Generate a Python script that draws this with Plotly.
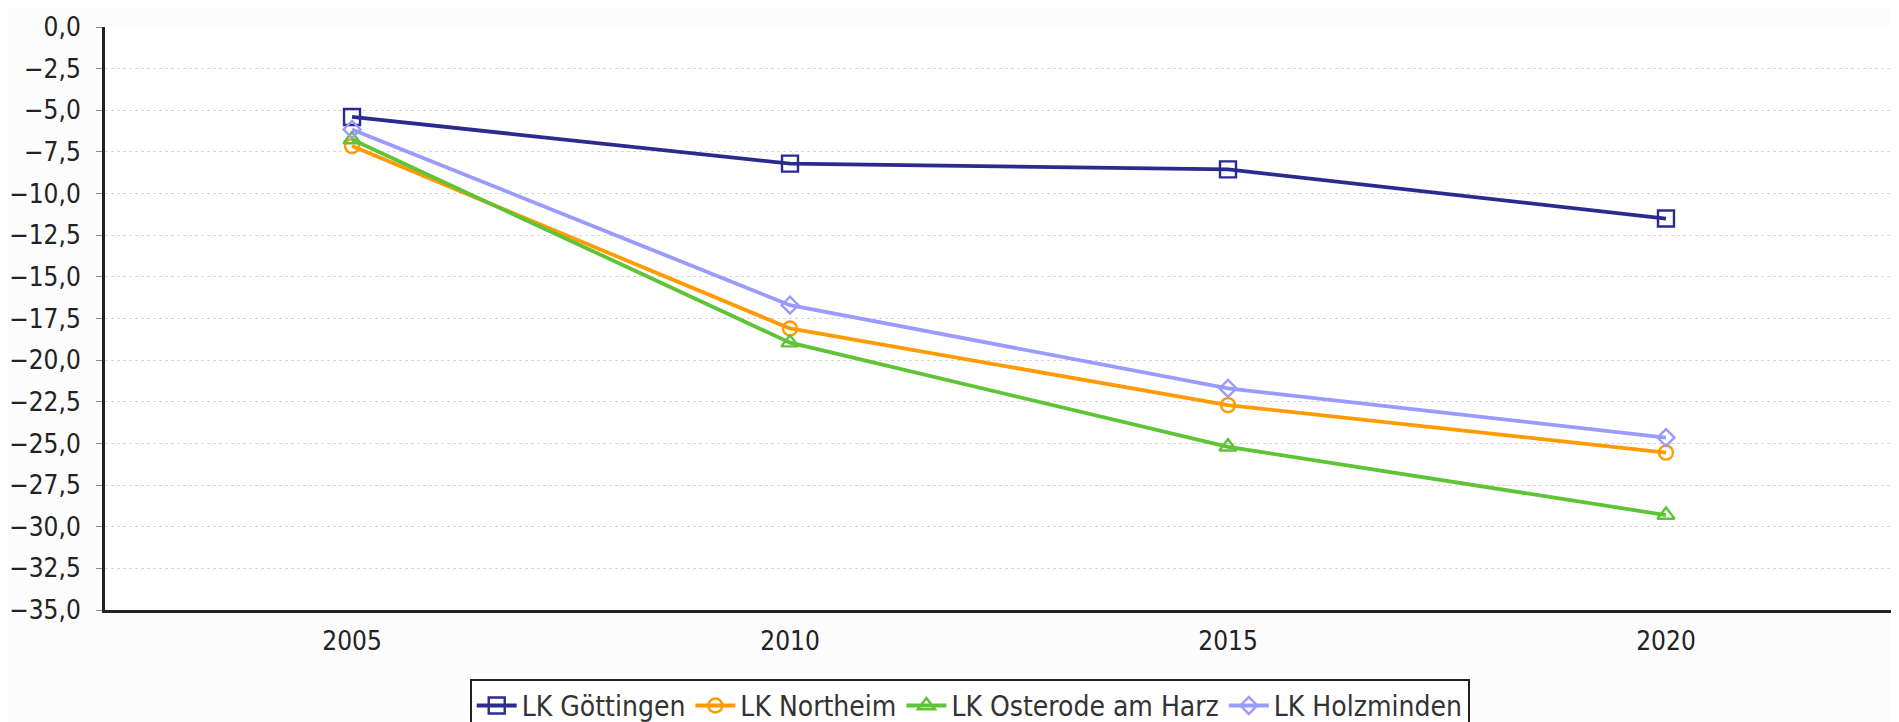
import plotly.graph_objects as go

years = [2005, 2010, 2015, 2020]
names = ["LK Göttingen", "LK Northeim", "LK Osterode am Harz", "LK Holzminden"]
goettingen = [-5.4, -8.2, -8.55, -11.5]
northeim = [-7.15, -18.1, -22.7, -25.55]
osterode = [-6.75, -18.95, -25.2, -29.3]
holzminden = [-6.15, -16.7, -21.7, -24.65]
y_ticks = [0, -2.5, -5, -7.5, -10, -12.5, -15, -17.5, -20, -22.5, -25, -27.5, -30, -32.5, -35]

series = [goettingen, northeim, osterode, holzminden]
colors = ["#2b2b8f", "#ff9a00", "#5ec435", "#9a9aff"]
symbols = ["square-open", "circle-open", "triangle-up-open", "diamond-open"]
sizes = [16, 14, 15, 13]

font_family = "DejaVu Sans Condensed, DejaVu Sans, sans-serif"

fig = go.Figure()
for name, vals, c, s, sz in zip(names, series, colors, symbols, sizes):
    fig.add_trace(go.Scatter(
        x=years, y=vals, name=name, mode="lines+markers",
        line=dict(color=c, width=3.8),
        marker=dict(symbol=s, size=sz, color=c, line=dict(width=2.4, color=c)),
    ))

# page body has an 8px margin, so the figure is offset by 8px
fig.update_layout(
    width=1891, height=714,
    paper_bgcolor="#fcfcfc", plot_bgcolor="#ffffff",
    margin=dict(l=97, r=0, t=19, b=112, autoexpand=False),
    separators=",.",
    font=dict(family=font_family, size=25, color="#333333"),
    showlegend=True,
    legend=dict(
        orientation="h", x=0.482, xanchor="center", y=-0.118, yanchor="top",
        bordercolor="#222222", borderwidth=2, bgcolor="#ffffff",
        font=dict(family=font_family, size=28, color="#333333"),
        itemwidth=40, tracegroupgap=0,
    ),
    xaxis=dict(
        range=[2002.18, 2022.66], tickmode="array", tickvals=years,
        ticktext=[str(y) for y in years],
        showgrid=False, zeroline=False,
        showline=True, linecolor="#222222", linewidth=3,
        ticks="", tickfont=dict(size=26, color="#222222"),
        ticklabelstandoff=6,
    ),
    yaxis=dict(
        range=[-35, 0], tickmode="array", tickvals=y_ticks,
        tickformat=".1f",
        showgrid=True, gridcolor="#d6d6d6", griddash="dot", gridwidth=1,
        zeroline=False,
        showline=True, linecolor="#222222", linewidth=3,
        ticks="outside", ticklen=6, tickcolor="#888888", tickwidth=1,
        tickfont=dict(size=26, color="#222222"),
        ticklabelstandoff=10,
    ),
)

fig.write_html("out.html")
